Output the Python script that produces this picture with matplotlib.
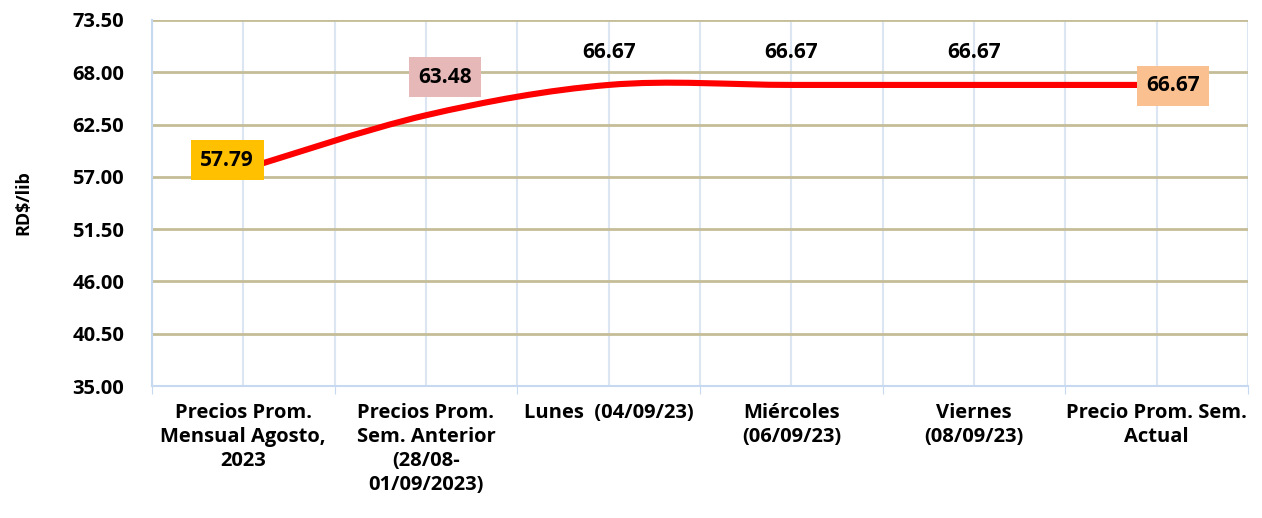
import numpy as np
import matplotlib.pyplot as plt
from matplotlib.path import Path
from matplotlib.patches import PathPatch

plt.rcParams['font.family'] = ['Open Sans', 'DejaVu Sans']
plt.rcParams['font.weight'] = 'bold'

# Datos
categorias = ['Precios Prom.\nMensual Agosto,\n2023',
              'Precios Prom.\nSem. Anterior\n(28/08-\n01/09/2023)',
              'Lunes  (04/09/23)',
              'Miércoles\n(06/09/23)',
              'Viernes\n(08/09/23)',
              'Precio Prom. Sem.\nActual']
precios = [57.79, 63.48, 66.67, 66.67, 66.67, 66.67]
yticks = [35.00, 40.50, 46.00, 51.50, 57.00, 62.50, 68.00, 73.50]

# estilos de etiquetas: (color de fondo, desplazamiento en pixeles)
etiquetas = [('#ffc000', (-16, 9)),
             ('#e6b8b7', (19, 38)),
             (None, (0, 32)),
             (None, (0, 32)),
             (None, (0, 32)),
             ('#fac090', (16, -1))]

fig = plt.figure(figsize=(12.62, 5.18), dpi=100)
ax = fig.add_axes([0.1204, 0.2548, 0.8686, 0.7066])

x = np.arange(len(precios))

# linea suavizada (bezier estilo Excel)
pts = np.column_stack([x, precios]).astype(float)
verts = [pts[0]]
codes = [Path.MOVETO]
n = len(pts)
for i in range(n - 1):
    p0 = pts[i - 1] if i > 0 else pts[i]
    p1 = pts[i]
    p2 = pts[i + 1]
    p3 = pts[i + 2] if i + 2 < n else pts[i + 1]
    c1 = p1 + (p2 - p0) / 6
    c2 = p2 - (p3 - p1) / 6
    verts += [c1, c2, p2]
    codes += [Path.CURVE4] * 3
ax.add_patch(PathPatch(Path(verts, codes), facecolor='none', edgecolor='#ff0000',
                       lw=4.4, capstyle='butt', zorder=3))

for i, v in enumerate(precios):
    color, off = etiquetas[i]
    bbox = None
    if color:
        bbox = dict(boxstyle='square,pad=0.45', fc=color, ec='none')
    ax.annotate('{:.2f}'.format(v), (x[i], v), xytext=off, textcoords='offset pixels',
                ha='center', va='center', fontsize=15, fontweight='bold',
                bbox=bbox, zorder=4)

ax.set_xlim(-0.5, 5.5)
ax.set_ylim(35, 73.5)
ax.set_yticks(yticks)
ax.set_yticklabels(['{:.2f}'.format(t) for t in yticks], fontsize=14.5, fontweight='bold')
ax.set_xticks(np.arange(-0.5, 6, 1))
ax.set_xticklabels([])
ax.set_xticks(x, minor=True)
ax.set_xticklabels(categorias, minor=True, fontsize=14.5, fontweight='bold', linespacing=1.28)
ax.tick_params(axis='x', which='minor', length=0, pad=12)
ax.tick_params(axis='x', which='major', length=6, color='#c6d9f1')
ax.tick_params(axis='y', length=0, pad=20)

ax.grid(axis='y', color='#c4bd97', lw=2)
ax.grid(axis='x', which='both', color='#dce6f2', lw=1.5)
for s in ['top', 'right']:
    ax.spines[s].set_visible(False)
ax.spines['left'].set_color('#c6d9f1')
ax.spines['bottom'].set_color('#c6d9f1')
ax.spines['left'].set_linewidth(1.5)
ax.spines['bottom'].set_linewidth(1.5)
ax.set_axisbelow(True)

ax.set_ylabel('RD$/lib', fontsize=13, fontweight='bold')
ax.yaxis.set_label_coords(-0.109, 0.5)

plt.savefig('out.png', dpi=100)
